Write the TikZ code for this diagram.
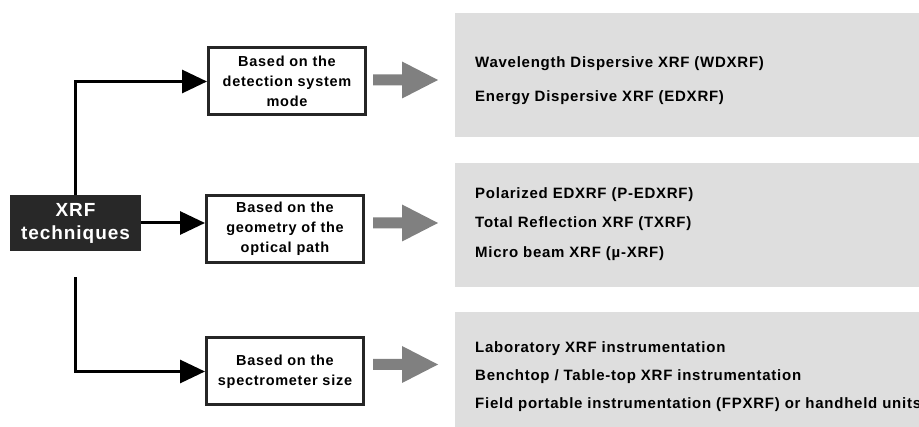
\documentclass[tikz,border=0pt]{standalone}
\usepackage{fontspec}
\setmainfont{Liberation Sans}[LetterSpace=5]
\usetikzlibrary{arrows.meta,calc}
\definecolor{darkbox}{HTML}{282828}
\definecolor{panelgray}{HTML}{DEDEDE}
\definecolor{arrowgray}{HTML}{808080}
\begin{document}
\begin{tikzpicture}[x=1pt,y=-1pt,
  catbox/.style={draw=black!85,line width=3pt,fill=white,minimum width=157pt,minimum height=67pt,align=center,inner sep=2pt,font=\bfseries\fontsize{14.5}{20}\selectfont},
  rootbox/.style={fill=darkbox,text=white,minimum width=131pt,minimum height=56pt,align=center,inner sep=0pt,font=\bfseries\fontsize{19}{23}\selectfont},
  conn/.style={line width=3pt,-{Triangle[length=25pt,width=23pt]}},
  paneltext/.style={anchor=base west,inner sep=0pt,font=\bfseries\fontsize{15}{16}\selectfont},
  garrow/.pic={\fill[arrowgray] (0,-5.5) -- (29,-5.5) -- (29,-18.5) -- (65,0) -- (29,18.5) -- (29,5.5) -- (0,5.5) -- cycle;}
]
\useasboundingbox (0,0) rectangle (919,427);
\fill[white] (0,0) rectangle (919,427);
% panels
\fill[panelgray] (455,13) rectangle (919,137);
\fill[panelgray] (455,163) rectangle (919,287);
\fill[panelgray] (455,312) rectangle (919,427);
% root
\node[rootbox] (xrf) at (75.5,223) {XRF\\techniques};
% category boxes
\node[catbox] (b1) at (287,81.5) {Based on the\\detection system\\mode};
\node[catbox] (b2) at (285,229) {Based on the\\geometry of the\\optical path};
\node[catbox] (b3) at (285,371.5) {Based on the\\spectrometer size};
% connectors
\draw[conn] (xrf.north) |- (b1.west);
\draw[conn] (xrf.east) -- (xrf.east -| b2.west);
\coordinate (lowstart) at ($(xrf.south)+(0,26)$);
\draw[conn] (lowstart) |- (b3.west);
% gray arrows
\pic at ($(b1.east)+(6,-1.5)$) {garrow};
\pic at ($(b2.east)+(8,-6)$) {garrow};
\pic at ($(b3.east)+(8,-7)$) {garrow};
% panel texts
\node[paneltext] (t11) at (475,67.5) {Wavelength Dispersive XRF (WDXRF)};
\node[paneltext] (t12) at (475,101.5) {Energy Dispersive XRF (EDXRF)};
\node[paneltext] (t21) at (475,198.5) {Polarized EDXRF (P-EDXRF)};
\node[paneltext] (t22) at (475,227.5) {Total Reflection XRF (TXRF)};
\node[paneltext] (t23) at (475,257.5) {Micro beam XRF (\textmu-XRF)};
\node[paneltext] (t31) at (475,352.5) {Laboratory XRF instrumentation};
\node[paneltext] (t32) at (475,380.5) {Benchtop / Table-top XRF instrumentation};
\node[paneltext] (t33) at (475,408.5) {Field portable instrumentation (FPXRF) or handheld units};
\end{tikzpicture}
\end{document}
